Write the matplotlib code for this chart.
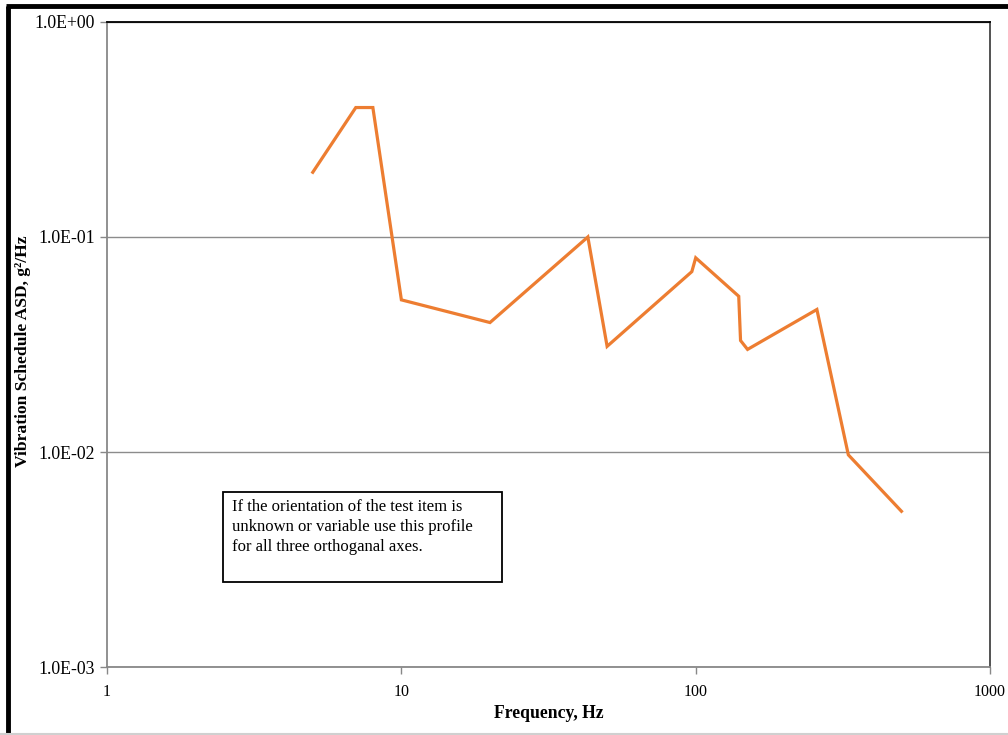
import numpy as np
import matplotlib.pyplot as plt
from matplotlib.lines import Line2D
from matplotlib.patches import Rectangle
from matplotlib.ticker import FixedLocator, FuncFormatter, NullLocator

plt.rcParams['font.family'] = ['Liberation Serif', 'DejaVu Serif']

# vibration schedule profile
freq = [5, 7, 8, 10, 20, 43, 50, 97, 100, 140, 142, 150, 258, 330, 500]
asd = [0.2, 0.4, 0.4, 0.051, 0.040, 0.1, 0.031, 0.069, 0.080, 0.053,
       0.033, 0.030, 0.046, 0.0097, 0.0053]

x_ticks = [1, 10, 100, 1000]
y_ticks = [1e-3, 1e-2, 1e-1, 1e0]
y_labels = ["1.0E-03", "1.0E-02", "1.0E-01", "1.0E+00"]

fig = plt.figure(figsize=(10.08, 7.35), dpi=100)
ax = fig.add_axes([0.1062, 0.0925, 0.8760, 0.8776])

ax.plot(freq, asd, color="#ED7D31", lw=2.3, solid_joinstyle="miter")

ax.set_xscale("log")
ax.set_yscale("log")
ax.set_xlim(1, 1000)
ax.set_ylim(1e-3, 1)

ax.xaxis.set_major_locator(FixedLocator(x_ticks))
ax.xaxis.set_minor_locator(NullLocator())
ax.xaxis.set_major_formatter(FuncFormatter(lambda v, p: "%d" % round(v)))
ax.yaxis.set_major_locator(FixedLocator(y_ticks))
ax.yaxis.set_minor_locator(NullLocator())
ax.set_yticklabels(y_labels)

ax.tick_params(axis="both", which="major", direction="out", length=5,
               width=1, color="#888888", pad=4)
ax.tick_params(axis="x", labelsize=11.5, pad=7)
ax.tick_params(axis="y", labelsize=12.8, pad=4)

ax.grid(True, axis="y", color="#8c8c8c", lw=1)
ax.set_axisbelow(True)

for s in ["left", "bottom"]:
    ax.spines[s].set_color("#888888")
    ax.spines[s].set_linewidth(1.3)
ax.spines["top"].set_color("black")
ax.spines["top"].set_linewidth(1.3)
ax.spines["right"].set_color("#444444")
ax.spines["right"].set_linewidth(1.3)

ax.set_xlabel("Frequency, Hz", fontsize=12.7, fontweight="bold", labelpad=4)
ax.set_ylabel("Vibration Schedule ASD, g²/Hz", fontsize=12.6,
              fontweight="bold")
ax.yaxis.set_label_coords(-0.0865, 0.49)

# note box
ax.add_patch(Rectangle((0.1314, 0.1318), 0.3159, 0.1395, transform=ax.transAxes,
                       fc="white", ec="black", lw=1.3, zorder=3))
ax.text(0.1415, 0.2600,
        "If the orientation of the test item is\n"
        "unknown or variable use this profile\n"
        "for all three orthoganal axes.",
        transform=ax.transAxes, fontsize=12, va="top", ha="left",
        linespacing=1.32, zorder=4)

# heavy frame around the figure (left and top)
fig.add_artist(Line2D([0.0078, 0.0078], [0.0, 0.9925], transform=fig.transFigure,
                      color="black", lw=3.5, solid_capstyle="butt"))
fig.add_artist(Line2D([0.006, 1.0], [0.9925, 0.9925], transform=fig.transFigure,
                      color="black", lw=3.5, solid_capstyle="butt"))
fig.add_artist(Line2D([0.0, 1.0], [0.002, 0.002], transform=fig.transFigure,
                      color="#d0d0d0", lw=1.5))

fig.savefig("out.png", dpi=100)
